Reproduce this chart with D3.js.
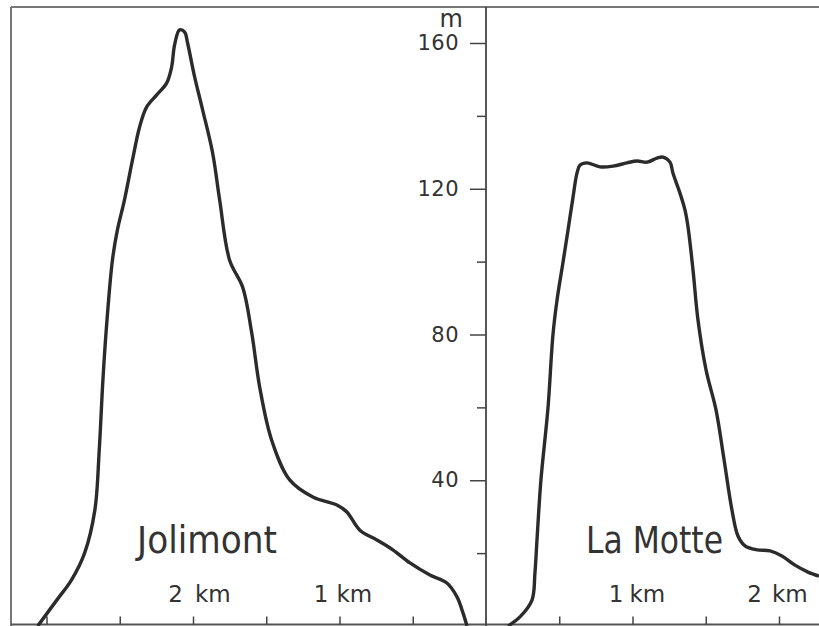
<!DOCTYPE html>
<html>
<head>
<meta charset="utf-8">
<script src="https://cdn.jsdelivr.net/npm/d3@7"></script>
<style>
  body { margin: 0; background: #fff; }
  svg { display: block; }
  text { font-family: "DejaVu Sans", sans-serif; fill: #333; }
</style>
</head>
<body>
<svg id="chart" width="819" height="626"></svg>
<script>
// Jolimont profile: distance from the axis (km, going left) and height (m)
const jolimontDist = [3.06, 2.93, 2.83, 2.74, 2.67, 2.64, 2.615, 2.587, 2.55, 2.516, 2.468, 2.413, 2.365, 2.317, 2.249, 2.18, 2.146, 2.126, 2.092, 2.057, 2.037, 1.989, 1.934, 1.866, 1.818, 1.75, 1.661, 1.599, 1.545, 1.463, 1.34, 1.182, 1.018, 0.95, 0.861, 0.745, 0.636, 0.519, 0.383, 0.267, 0.198, 0.157, 0.13];
const jolimontHeight = [0, 7.1, 12.6, 20, 31.8, 48.3, 67.5, 84, 100.4, 108.7, 116.9, 127.9, 136.9, 142.4, 145.7, 149, 153.4, 159.4, 163.6, 163, 160, 150.7, 141.6, 129.8, 116.9, 100.4, 93, 80.4, 65.6, 51, 40.1, 35.4, 33.2, 31.3, 26.3, 23.6, 20.9, 17.3, 14, 11.8, 8, 3.6, 0];

// La Motte profile: distance from the axis (km, going right) and height (m)
const motteDist = [0.15, 0.232, 0.314, 0.334, 0.348, 0.375, 0.423, 0.457, 0.485, 0.526, 0.56, 0.594, 0.621, 0.642, 0.689, 0.778, 0.867, 0.962, 1.031, 1.099, 1.167, 1.208, 1.256, 1.276, 1.324, 1.358, 1.379, 1.413, 1.447, 1.502, 1.57, 1.625, 1.679, 1.72, 1.768, 1.85, 1.939, 2.02, 2.109, 2.198, 2.273];
const motteHeight = [0, 2.5, 7.1, 14.5, 23.6, 40.1, 59.8, 79.9, 89.5, 99.9, 108.7, 117.7, 124.3, 126.5, 127.1, 126, 126.2, 127.1, 127.6, 127.3, 128.4, 128.7, 127.3, 124.3, 118.8, 114.2, 109.5, 97.7, 84, 70.3, 59.3, 45.6, 31.8, 24.7, 22, 20.9, 20.6, 19.2, 16.7, 14.8, 13.7];

const heightTicks = [40, 80, 120, 160];
const heightMinorTicks = [20, 60, 100, 140];
const distTicks = [0.5, 1, 1.5, 2, 2.5, 3];
const leftKm = [2, 1];
const rightKm = [1, 2];

const svg = d3.select("#chart");
const axisX = 486, baseY = 626, topY = 7, leftX = 11;

const y = d3.scaleLinear().domain([0, 160]).range([baseY, 43]);
const xLeft = d3.scaleLinear().domain([0, 1]).range([axisX, axisX - 146.5]);
const xRight = d3.scaleLinear().domain([0, 1]).range([axisX, axisX + 146.5]);

// frame
svg.append("line").attr("x1", leftX).attr("x2", 819).attr("y1", topY).attr("y2", topY)
  .attr("stroke", "#777").attr("stroke-width", 2);
svg.append("line").attr("x1", leftX).attr("x2", leftX).attr("y1", topY).attr("y2", baseY)
  .attr("stroke", "#777").attr("stroke-width", 2);
svg.append("line").attr("x1", leftX).attr("x2", 819).attr("y1", 624.5).attr("y2", 624.5)
  .attr("stroke", "#555").attr("stroke-width", 2);

// bottom ticks
const bottomLeft = svg.append("g").attr("transform", "translate(0,624.5)")
  .call(d3.axisTop(xLeft).tickValues(distTicks.filter(d => xLeft(d) > leftX + 5)).tickSize(8).tickFormat(""));
const bottomRight = svg.append("g").attr("transform", "translate(0,624.5)")
  .call(d3.axisTop(xRight).tickValues(distTicks.filter(d => xRight(d) < 819)).tickSize(8).tickFormat(""));
[bottomLeft, bottomRight].forEach(g => {
  g.select(".domain").remove();
  g.selectAll(".tick line").attr("stroke", "#444").attr("stroke-width", 1.5);
});

// central height axis
const minor = svg.append("g").attr("transform", `translate(${axisX},0)`)
  .call(d3.axisLeft(y).tickValues(heightMinorTicks).tickSize(9).tickFormat(""));
minor.select(".domain").remove();
minor.selectAll(".tick line").attr("stroke", "#444").attr("stroke-width", 1.5);

const major = svg.append("g").attr("transform", `translate(${axisX},0)`)
  .call(d3.axisLeft(y).tickValues(heightTicks).tickSize(16).tickPadding(11));
major.select(".domain").remove();
major.selectAll(".tick line").attr("stroke", "#444").attr("stroke-width", 1.5);
major.selectAll(".tick text").attr("font-size", 21).attr("fill", "#333")
  .attr("font-family", "DejaVu Sans, sans-serif").attr("letter-spacing", 0.5);

svg.append("line").attr("x1", axisX).attr("x2", axisX).attr("y1", topY).attr("y2", baseY)
  .attr("stroke", "#444").attr("stroke-width", 1.8);

svg.append("text").attr("x", 463).attr("y", 27).attr("text-anchor", "end")
  .attr("font-size", 24).text("m");

// km labels: numeral just left of its tick, unit beside it
function kmLabel(xs, km, numShift, unitShift) {
  svg.append("text").attr("y", 602).attr("font-size", 23)
    .attr("x", xs(km) + numShift).attr("text-anchor", "end").text(km);
  svg.append("text").attr("y", 602).attr("font-size", 23)
    .attr("x", xs(km) + unitShift).text("km");
}
kmLabel(xLeft, leftKm[0], -10, 2);
kmLabel(xLeft, leftKm[1], -11, -3);
kmLabel(xRight, rightKm[0], -9, -3);
kmLabel(xRight, rightKm[1], -17, -7);

// profiles
const lineLeft = d3.line().x(d => xLeft(d[0])).y(d => y(d[1])).curve(d3.curveCatmullRom.alpha(0.5));
const lineRight = d3.line().x(d => xRight(d[0])).y(d => y(d[1])).curve(d3.curveCatmullRom.alpha(0.5));

svg.append("path").datum(d3.zip(jolimontDist, jolimontHeight))
  .attr("d", lineLeft).attr("fill", "none").attr("stroke", "#2b2b2b")
  .attr("stroke-width", 3.4).attr("stroke-linejoin", "round");
svg.append("path").datum(d3.zip(motteDist, motteHeight))
  .attr("d", lineRight).attr("fill", "none").attr("stroke", "#2b2b2b")
  .attr("stroke-width", 3.4).attr("stroke-linejoin", "round");

// names
svg.append("text").attr("x", 137).attr("y", 553).attr("font-size", 37)
  .attr("textLength", 140).attr("lengthAdjust", "spacingAndGlyphs").text("Jolimont");
svg.append("text").attr("x", 586).attr("y", 553).attr("font-size", 37)
  .attr("textLength", 137).attr("lengthAdjust", "spacingAndGlyphs").text("La Motte");
</script>
</body>
</html>
